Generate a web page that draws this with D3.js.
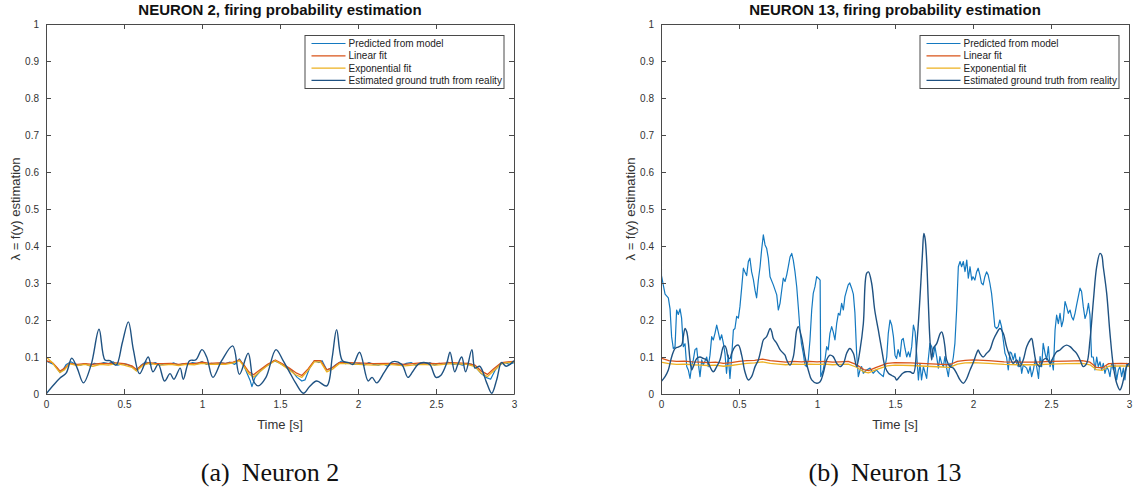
<!DOCTYPE html>
<html><head><meta charset="utf-8">
<script src="https://cdn.jsdelivr.net/npm/d3@7"></script>
<style>body{margin:0;background:#fff}svg{display:block}</style>
</head><body>
<svg id="c" width="1135" height="493"></svg>
<script>
// ---------- DATA ----------
const seriesNames = ["Predicted from model","Linear fit","Exponential fit","Estimated ground truth from reality"];
const xTicks = [0,0.5,1,1.5,2,2.5,3];
const xTickLabels = ["0","0.5","1","1.5","2","2.5","3"];
const yTicks = [0,0.1,0.2,0.3,0.4,0.5,0.6,0.7,0.8,0.9,1];
const yTickLabels = ["0","0.1","0.2","0.3","0.4","0.5","0.6","0.7","0.8","0.9","1"];
const titles = ["NEURON 2, firing probability estimation","NEURON 13, firing probability estimation"];
const captionTags = ["(a)","(b)"];
const captionNames = ["Neuron 2","Neuron 13"];

// Neuron 2  [time, value]
const n2Pred = [[0,0.09],[0.02,0.085],[0.05,0.08],[0.07,0.07],[0.09,0.058],[0.11,0.066],[0.13,0.08],[0.16,0.087],[0.19,0.08],[0.22,0.078],[0.25,0.082],[0.28,0.076],[0.31,0.083],[0.34,0.08],[0.37,0.085],[0.4,0.082],[0.43,0.087],[0.46,0.078],[0.49,0.082],[0.52,0.08],[0.55,0.074],[0.58,0.063],[0.61,0.078],[0.64,0.087],[0.67,0.08],[0.7,0.085],[0.73,0.078],[0.76,0.082],[0.79,0.08],[0.82,0.084],[0.85,0.078],[0.88,0.082],[0.91,0.08],[0.94,0.085],[0.97,0.082],[1.0,0.088],[1.03,0.08],[1.06,0.083],[1.09,0.08],[1.12,0.085],[1.15,0.082],[1.18,0.086],[1.21,0.08],[1.24,0.095],[1.27,0.075],[1.29,0.055],[1.31,0.035],[1.32,0.02],[1.34,0.045],[1.37,0.06],[1.4,0.072],[1.43,0.08],[1.46,0.09],[1.49,0.085],[1.52,0.078],[1.55,0.07],[1.58,0.06],[1.61,0.045],[1.64,0.035],[1.66,0.038],[1.69,0.07],[1.72,0.09],[1.75,0.085],[1.77,0.09],[1.8,0.065],[1.83,0.07],[1.86,0.08],[1.89,0.088],[1.92,0.082],[1.95,0.085],[1.98,0.08],[2.01,0.083],[2.04,0.078],[2.07,0.085],[2.1,0.08],[2.13,0.078],[2.16,0.082],[2.19,0.075],[2.22,0.083],[2.25,0.08],[2.28,0.077],[2.31,0.083],[2.34,0.085],[2.37,0.078],[2.4,0.082],[2.43,0.08],[2.46,0.085],[2.49,0.078],[2.52,0.083],[2.55,0.08],[2.58,0.086],[2.61,0.08],[2.64,0.082],[2.67,0.078],[2.7,0.083],[2.73,0.08],[2.76,0.07],[2.79,0.055],[2.82,0.045],[2.85,0.04],[2.88,0.065],[2.91,0.08],[2.94,0.085],[2.97,0.08],[3.0,0.085]];
const n2Lin = [[0,0.09],[0.04,0.085],[0.07,0.072],[0.09,0.062],[0.12,0.07],[0.15,0.083],[0.2,0.08],[0.25,0.082],[0.3,0.08],[0.35,0.083],[0.4,0.082],[0.45,0.084],[0.5,0.082],[0.55,0.076],[0.58,0.066],[0.62,0.08],[0.66,0.085],[0.7,0.083],[0.75,0.082],[0.8,0.083],[0.85,0.08],[0.9,0.083],[0.95,0.082],[1.0,0.086],[1.05,0.083],[1.1,0.084],[1.15,0.083],[1.2,0.086],[1.24,0.092],[1.27,0.078],[1.3,0.06],[1.33,0.052],[1.37,0.065],[1.42,0.08],[1.47,0.092],[1.51,0.083],[1.56,0.07],[1.6,0.058],[1.64,0.05],[1.68,0.068],[1.72,0.09],[1.76,0.09],[1.8,0.065],[1.84,0.072],[1.88,0.085],[1.93,0.085],[2.0,0.084],[2.1,0.082],[2.2,0.083],[2.3,0.08],[2.4,0.084],[2.5,0.082],[2.6,0.085],[2.7,0.083],[2.75,0.078],[2.79,0.062],[2.83,0.053],[2.87,0.068],[2.92,0.085],[2.96,0.087],[3.0,0.088]];
const n2Exp = [[0,0.1],[0.04,0.085],[0.07,0.068],[0.09,0.058],[0.12,0.066],[0.15,0.082],[0.2,0.077],[0.25,0.08],[0.3,0.075],[0.35,0.08],[0.4,0.078],[0.45,0.082],[0.5,0.078],[0.55,0.072],[0.58,0.062],[0.62,0.077],[0.66,0.083],[0.7,0.08],[0.75,0.078],[0.8,0.08],[0.85,0.077],[0.9,0.08],[0.95,0.079],[1.0,0.083],[1.05,0.08],[1.1,0.081],[1.15,0.08],[1.2,0.084],[1.24,0.09],[1.27,0.074],[1.3,0.055],[1.33,0.046],[1.37,0.06],[1.42,0.077],[1.47,0.09],[1.51,0.08],[1.56,0.065],[1.6,0.052],[1.64,0.045],[1.68,0.064],[1.72,0.087],[1.76,0.087],[1.8,0.06],[1.84,0.068],[1.88,0.082],[1.93,0.082],[2.0,0.08],[2.1,0.078],[2.2,0.08],[2.3,0.076],[2.4,0.08],[2.5,0.078],[2.6,0.082],[2.7,0.08],[2.75,0.074],[2.79,0.056],[2.83,0.047],[2.87,0.063],[2.92,0.082],[2.96,0.085],[3.0,0.086]];
const n2Truth = [[0,0.0],[0.05,0.025],[0.09,0.043],[0.13,0.057],[0.165,0.097],[0.2,0.07],[0.24,0.03],[0.29,0.08],[0.34,0.175],[0.378,0.092],[0.41,0.09],[0.45,0.078],[0.49,0.14],[0.528,0.195],[0.56,0.12],[0.6,0.055],[0.655,0.1],[0.685,0.06],[0.72,0.08],[0.76,0.035],[0.795,0.055],[0.82,0.04],[0.86,0.07],[0.88,0.04],[0.92,0.09],[0.96,0.092],[1.0,0.12],[1.03,0.1],[1.07,0.045],[1.126,0.09],[1.197,0.13],[1.24,0.053],[1.296,0.11],[1.33,0.035],[1.36,0.022],[1.41,0.045],[1.474,0.12],[1.52,0.09],[1.56,0.06],[1.6,0.03],[1.65,0.002],[1.69,0.02],[1.735,0.035],[1.8,0.022],[1.835,0.1],[1.863,0.174],[1.9,0.09],[1.94,0.085],[1.968,0.08],[2.01,0.113],[2.065,0.035],[2.09,0.045],[2.12,0.03],[2.17,0.06],[2.22,0.087],[2.28,0.08],[2.32,0.045],[2.35,0.06],[2.385,0.08],[2.42,0.085],[2.46,0.08],[2.5,0.045],[2.53,0.05],[2.57,0.085],[2.59,0.113],[2.62,0.06],[2.64,0.08],[2.665,0.1],[2.69,0.06],[2.73,0.12],[2.75,0.07],[2.78,0.075],[2.825,0.03],[2.857,0.002],[2.89,0.04],[2.92,0.085],[2.95,0.075],[3.0,0.09]];

// Neuron 13  [time, value]
const n13Pred = [[0,0.6],[0.003,0.32],[0.026,0.27],[0.047,0.26],[0.058,0.23],[0.068,0.155],[0.079,0.123],[0.09,0.128],[0.1,0.227],[0.111,0.215],[0.122,0.23],[0.132,0.205],[0.143,0.128],[0.154,0.136],[0.165,0.074],[0.175,0.065],[0.186,0.042],[0.197,0.078],[0.207,0.092],[0.218,0.12],[0.229,0.124],[0.239,0.083],[0.25,0.047],[0.261,0.092],[0.271,0.078],[0.293,0.1],[0.303,0.074],[0.314,0.105],[0.325,0.155],[0.335,0.146],[0.346,0.164],[0.357,0.186],[0.367,0.168],[0.378,0.146],[0.389,0.16],[0.4,0.137],[0.41,0.11],[0.42,0.056],[0.431,0.105],[0.442,0.042],[0.453,0.101],[0.464,0.173],[0.474,0.177],[0.485,0.21],[0.496,0.205],[0.506,0.236],[0.517,0.286],[0.528,0.34],[0.538,0.33],[0.549,0.32],[0.56,0.358],[0.57,0.367],[0.581,0.33],[0.592,0.31],[0.603,0.28],[0.613,0.26],[0.624,0.308],[0.635,0.344],[0.645,0.39],[0.656,0.43],[0.667,0.403],[0.677,0.394],[0.688,0.367],[0.699,0.317],[0.72,0.295],[0.742,0.268],[0.752,0.227],[0.763,0.245],[0.774,0.281],[0.784,0.313],[0.795,0.304],[0.806,0.322],[0.816,0.344],[0.827,0.37],[0.838,0.38],[0.848,0.362],[0.859,0.33],[0.87,0.29],[0.88,0.236],[0.891,0.173],[0.9,0.137],[0.912,0.11],[0.923,0.078],[0.933,0.074],[0.944,0.092],[0.955,0.146],[0.966,0.227],[0.976,0.272],[0.987,0.29],[0.998,0.317],[1.009,0.313],[1.02,0.308],[1.024,0.047],[1.04,0.065],[1.051,0.092],[1.062,0.128],[1.072,0.119],[1.083,0.164],[1.094,0.182],[1.104,0.168],[1.115,0.146],[1.126,0.19],[1.137,0.218],[1.147,0.213],[1.158,0.245],[1.169,0.227],[1.179,0.263],[1.19,0.28],[1.2,0.295],[1.21,0.3],[1.222,0.286],[1.233,0.27],[1.243,0.22],[1.254,0.11],[1.265,0.047],[1.276,0.065],[1.286,0.074],[1.297,0.056],[1.318,0.065],[1.34,0.07],[1.36,0.056],[1.38,0.065],[1.4,0.056],[1.425,0.047],[1.447,0.1],[1.457,0.164],[1.468,0.2],[1.479,0.186],[1.49,0.155],[1.5,0.105],[1.51,0.096],[1.52,0.12],[1.532,0.101],[1.543,0.146],[1.553,0.15],[1.564,0.123],[1.575,0.1],[1.586,0.114],[1.596,0.1],[1.607,0.128],[1.618,0.186],[1.629,0.168],[1.64,0.1],[1.65,0.038],[1.66,0.083],[1.67,0.038],[1.682,0.074],[1.703,0.042],[1.713,0.092],[1.724,0.137],[1.735,0.128],[1.745,0.1],[1.756,0.128],[1.767,0.101],[1.778,0.07],[1.788,0.101],[1.799,0.083],[1.81,0.074],[1.82,0.101],[1.831,0.07],[1.842,0.047],[1.852,0.083],[1.863,0.074],[1.874,0.1],[1.884,0.137],[1.895,0.227],[1.906,0.344],[1.917,0.358],[1.927,0.344],[1.938,0.358],[1.949,0.331],[1.96,0.362],[1.97,0.313],[1.981,0.344],[1.992,0.308],[2.0,0.317],[2.012,0.308],[2.023,0.33],[2.033,0.34],[2.044,0.322],[2.054,0.3],[2.065,0.295],[2.076,0.317],[2.087,0.33],[2.097,0.322],[2.108,0.3],[2.119,0.272],[2.13,0.227],[2.14,0.182],[2.151,0.177],[2.162,0.182],[2.172,0.2],[2.183,0.182],[2.194,0.146],[2.205,0.11],[2.215,0.1],[2.226,0.065],[2.237,0.114],[2.247,0.11],[2.258,0.092],[2.269,0.11],[2.28,0.083],[2.29,0.074],[2.3,0.1],[2.312,0.056],[2.322,0.078],[2.344,0.07],[2.355,0.056],[2.366,0.074],[2.376,0.047],[2.387,0.065],[2.398,0.092],[2.408,0.074],[2.42,0.042],[2.43,0.101],[2.44,0.074],[2.45,0.137],[2.462,0.11],[2.472,0.092],[2.483,0.128],[2.494,0.074],[2.504,0.092],[2.515,0.065],[2.526,0.173],[2.536,0.213],[2.547,0.19],[2.558,0.218],[2.568,0.182],[2.579,0.2],[2.59,0.25],[2.6,0.236],[2.611,0.218],[2.622,0.227],[2.632,0.209],[2.643,0.2],[2.654,0.218],[2.664,0.24],[2.675,0.263],[2.686,0.286],[2.696,0.277],[2.707,0.236],[2.718,0.204],[2.729,0.218],[2.74,0.245],[2.75,0.213],[2.76,0.1],[2.771,0.1],[2.782,0.065],[2.793,0.1],[2.803,0.074],[2.814,0.087],[2.825,0.065],[2.835,0.083],[2.846,0.056],[2.857,0.074],[2.868,0.065],[2.878,0.047],[2.889,0.083],[2.9,0.065],[2.91,0.078],[2.921,0.038],[2.932,0.065],[2.942,0.074],[2.953,0.047],[2.964,0.07],[2.974,0.038],[2.985,0.083],[3.0,0.074]];
const n13Lin = [[0,0.097],[0.05,0.09],[0.1,0.088],[0.15,0.089],[0.2,0.087],[0.25,0.086],[0.3,0.085],[0.35,0.086],[0.4,0.083],[0.45,0.085],[0.5,0.088],[0.55,0.09],[0.6,0.091],[0.65,0.094],[0.7,0.09],[0.75,0.088],[0.8,0.086],[0.85,0.088],[0.9,0.087],[0.95,0.088],[1.0,0.087],[1.05,0.088],[1.1,0.086],[1.15,0.087],[1.2,0.088],[1.25,0.08],[1.3,0.066],[1.33,0.063],[1.38,0.072],[1.45,0.083],[1.5,0.085],[1.6,0.084],[1.7,0.082],[1.8,0.08],[1.85,0.079],[1.9,0.088],[1.95,0.091],[2.0,0.092],[2.1,0.09],[2.2,0.087],[2.3,0.086],[2.4,0.086],[2.5,0.088],[2.6,0.089],[2.7,0.09],[2.75,0.086],[2.79,0.072],[2.83,0.071],[2.87,0.082],[2.95,0.083],[3.0,0.082]];
const n13Exp = [[0,0.086],[0.05,0.082],[0.1,0.08],[0.15,0.081],[0.2,0.079],[0.25,0.078],[0.3,0.077],[0.35,0.078],[0.4,0.075],[0.45,0.077],[0.5,0.08],[0.55,0.083],[0.6,0.084],[0.65,0.087],[0.7,0.083],[0.75,0.081],[0.8,0.079],[0.85,0.081],[0.9,0.08],[0.95,0.081],[1.0,0.08],[1.05,0.081],[1.1,0.079],[1.15,0.08],[1.2,0.081],[1.25,0.073],[1.3,0.06],[1.33,0.057],[1.38,0.066],[1.45,0.076],[1.5,0.078],[1.6,0.077],[1.7,0.075],[1.8,0.073],[1.85,0.072],[1.9,0.081],[1.95,0.084],[2.0,0.085],[2.1,0.083],[2.2,0.08],[2.3,0.079],[2.4,0.079],[2.5,0.081],[2.6,0.082],[2.7,0.083],[2.75,0.079],[2.79,0.066],[2.83,0.064],[2.87,0.075],[2.95,0.076],[3.0,0.075]];
const n13Truth = [[0,0.033],[0.026,0.047],[0.047,0.065],[0.068,0.1],[0.09,0.123],[0.11,0.127],[0.132,0.132],[0.143,0.155],[0.154,0.177],[0.165,0.168],[0.175,0.14],[0.186,0.092],[0.197,0.065],[0.207,0.074],[0.229,0.096],[0.25,0.1],[0.271,0.096],[0.293,0.092],[0.314,0.074],[0.335,0.06],[0.357,0.074],[0.378,0.092],[0.4,0.128],[0.41,0.13],[0.42,0.12],[0.43,0.1],[0.442,0.096],[0.453,0.11],[0.474,0.128],[0.496,0.132],[0.517,0.105],[0.538,0.06],[0.56,0.038],[0.581,0.047],[0.603,0.074],[0.624,0.092],[0.645,0.128],[0.656,0.146],[0.677,0.155],[0.7,0.177],[0.71,0.168],[0.72,0.15],[0.742,0.137],[0.763,0.12],[0.784,0.11],[0.795,0.105],[0.806,0.092],[0.827,0.078],[0.848,0.1],[0.87,0.173],[0.88,0.182],[0.9,0.155],[0.912,0.128],[0.923,0.1],[0.944,0.065],[0.966,0.038],[0.998,0.029],[1.02,0.033],[1.04,0.056],[1.062,0.092],[1.083,0.105],[1.104,0.101],[1.126,0.083],[1.147,0.074],[1.17,0.083],[1.19,0.11],[1.21,0.123],[1.233,0.11],[1.254,0.074],[1.276,0.12],[1.297,0.19],[1.318,0.326],[1.33,0.33],[1.35,0.3],[1.37,0.227],[1.393,0.173],[1.415,0.12],[1.436,0.074],[1.458,0.056],[1.479,0.05],[1.5,0.045],[1.51,0.038],[1.53,0.047],[1.55,0.056],[1.57,0.06],[1.596,0.06],[1.618,0.056],[1.64,0.137],[1.66,0.26],[1.676,0.38],[1.685,0.434],[1.693,0.42],[1.703,0.362],[1.713,0.254],[1.724,0.146],[1.735,0.092],[1.745,0.123],[1.768,0.137],[1.79,0.164],[1.8,0.168],[1.81,0.155],[1.82,0.128],[1.831,0.092],[1.853,0.074],[1.874,0.07],[1.895,0.056],[1.917,0.038],[1.938,0.029],[1.96,0.042],[1.981,0.065],[2.0,0.083],[2.023,0.11],[2.033,0.119],[2.044,0.11],[2.065,0.1],[2.087,0.11],[2.108,0.119],[2.13,0.146],[2.151,0.164],[2.173,0.177],[2.194,0.164],[2.215,0.128],[2.237,0.1],[2.258,0.083],[2.28,0.092],[2.3,0.074],[2.322,0.092],[2.344,0.128],[2.366,0.146],[2.376,0.15],[2.387,0.128],[2.408,0.083],[2.43,0.074],[2.45,0.092],[2.472,0.096],[2.494,0.083],[2.515,0.1],[2.536,0.114],[2.558,0.119],[2.58,0.128],[2.6,0.132],[2.622,0.128],[2.643,0.119],[2.664,0.11],[2.686,0.092],[2.707,0.074],[2.729,0.083],[2.75,0.146],[2.772,0.254],[2.793,0.344],[2.814,0.38],[2.825,0.375],[2.835,0.344],[2.857,0.272],[2.878,0.164],[2.9,0.074],[2.921,0.029],[2.942,0.011],[2.953,0.02],[2.964,0.038],[2.985,0.074],[3.0,0.083]];

const colors = ["#1479c0","#D95319","#EDB120","#1f5282"];

// ---------- DRAW ----------
(function(){
const svg = d3.select("#c");
svg.append("rect").attr("width",1135).attr("height",493).attr("fill","#fff");

const panels = [
  {x0:46, x1:514, series:[n2Pred,n2Lin,n2Exp,n2Truth]},
  {x0:661, x1:1129, series:[n13Pred,n13Lin,n13Exp,n13Truth]}
];
const plotTop = 24, plotBottom = 394;
const axisColor = "#4a4a4a";
const font = "'Liberation Sans', Arial, Helvetica, sans-serif";
const serif = "'Liberation Serif', 'Times New Roman', serif";

panels.forEach((p,i)=>{
  const x = d3.scaleLinear().domain([0,3]).range([p.x0,p.x1]);
  const y = d3.scaleLinear().domain([0,1]).range([plotBottom,plotTop]);
  const g = svg.append("g");
  const clipId = "clip"+i;
  svg.append("clipPath").attr("id",clipId).append("rect")
    .attr("x",p.x0).attr("y",plotTop).attr("width",p.x1-p.x0).attr("height",plotBottom-plotTop);

  const lines = g.append("g").attr("clip-path",`url(#${clipId})`);
  const widths = [1.2,1.3,1.3,1.4];
  const curves = [d3.curveLinear,d3.curveLinear,d3.curveLinear,d3.curveCatmullRom.alpha(0.5)];
  p.series.forEach((s,k)=>{
    lines.append("path").datum(s)
      .attr("fill","none").attr("stroke",colors[k]).attr("stroke-width",widths[k])
      .attr("stroke-linejoin","round")
      .attr("d", d3.line().x(d=>x(d[0])).y(d=>y(d[1])).curve(curves[k]));
  });

  const styleAxis = sel => {
    sel.selectAll("path,line").attr("stroke",axisColor);
    sel.selectAll("text").attr("fill","#333").attr("font-family",font).attr("font-size","10px");
  };
  g.append("g").attr("transform",`translate(0,${plotBottom})`)
    .call(d3.axisBottom(x).tickValues(xTicks).tickFormat((d,j)=>xTickLabels[j]).tickSizeInner(-5).tickSizeOuter(0).tickPadding(7))
    .call(styleAxis);
  g.append("g").attr("transform",`translate(0,${plotTop})`)
    .call(d3.axisTop(x).tickValues(xTicks).tickFormat("").tickSizeInner(-5).tickSizeOuter(0))
    .call(styleAxis);
  g.append("g").attr("transform",`translate(${p.x0},0)`)
    .call(d3.axisLeft(y).tickValues(yTicks).tickFormat((d,j)=>yTickLabels[j]).tickSizeInner(-5).tickSizeOuter(0).tickPadding(7))
    .call(styleAxis);
  g.append("g").attr("transform",`translate(${p.x1},0)`)
    .call(d3.axisRight(y).tickValues(yTicks).tickFormat("").tickSizeInner(-5).tickSizeOuter(0))
    .call(styleAxis);

  const cx = (p.x0+p.x1)/2;
  g.append("text").attr("x",cx).attr("y",15).attr("text-anchor","middle")
    .attr("font-family",font).attr("font-weight","bold").attr("font-size","15px").attr("fill","#111")
    .text(titles[i]);
  g.append("text").attr("x",cx).attr("y",429).attr("text-anchor","middle")
    .attr("font-family",font).attr("font-size","13px").attr("fill","#333").text("Time [s]");
  g.append("text").attr("transform",`translate(${p.x0-26},${(plotTop+plotBottom)/2}) rotate(-90)`)
    .attr("text-anchor","middle").attr("font-family",font).attr("font-size","13px").attr("fill","#333")
    .text("λ = f(y) estimation");
  // caption: tag + name with a wide gap (LaTeX subcaption style)
  const cap = g.append("text").attr("x",cx-10).attr("y",481).attr("text-anchor","middle")
    .attr("font-family",serif).attr("font-size","26px").attr("fill","#111");
  cap.append("tspan").text(captionTags[i]);
  cap.append("tspan").attr("dx",12).text(captionNames[i]);

  // legend
  const lx1 = p.x1 - 10.5, lx0 = lx1 - 199, ly0 = 35, ly1 = 88;
  const lg = g.append("g");
  lg.append("rect").attr("x",lx0+0.5).attr("y",ly0+0.5).attr("width",lx1-lx0).attr("height",ly1-ly0)
    .attr("fill","#fff").attr("stroke",axisColor).attr("stroke-width",1);
  seriesNames.forEach((nm,k)=>{
    const yy = ly0 + 8.5 + k*12.3;
    lg.append("line").attr("x1",lx0+7).attr("x2",lx0+41).attr("y1",yy).attr("y2",yy)
      .attr("stroke",colors[k]).attr("stroke-width",1.2);
    lg.append("text").attr("x",lx0+44).attr("y",yy+3.5).attr("font-family",font).attr("font-size","10px")
      .attr("fill","#222").text(nm);
  });
});
})();
</script>
</body></html>
